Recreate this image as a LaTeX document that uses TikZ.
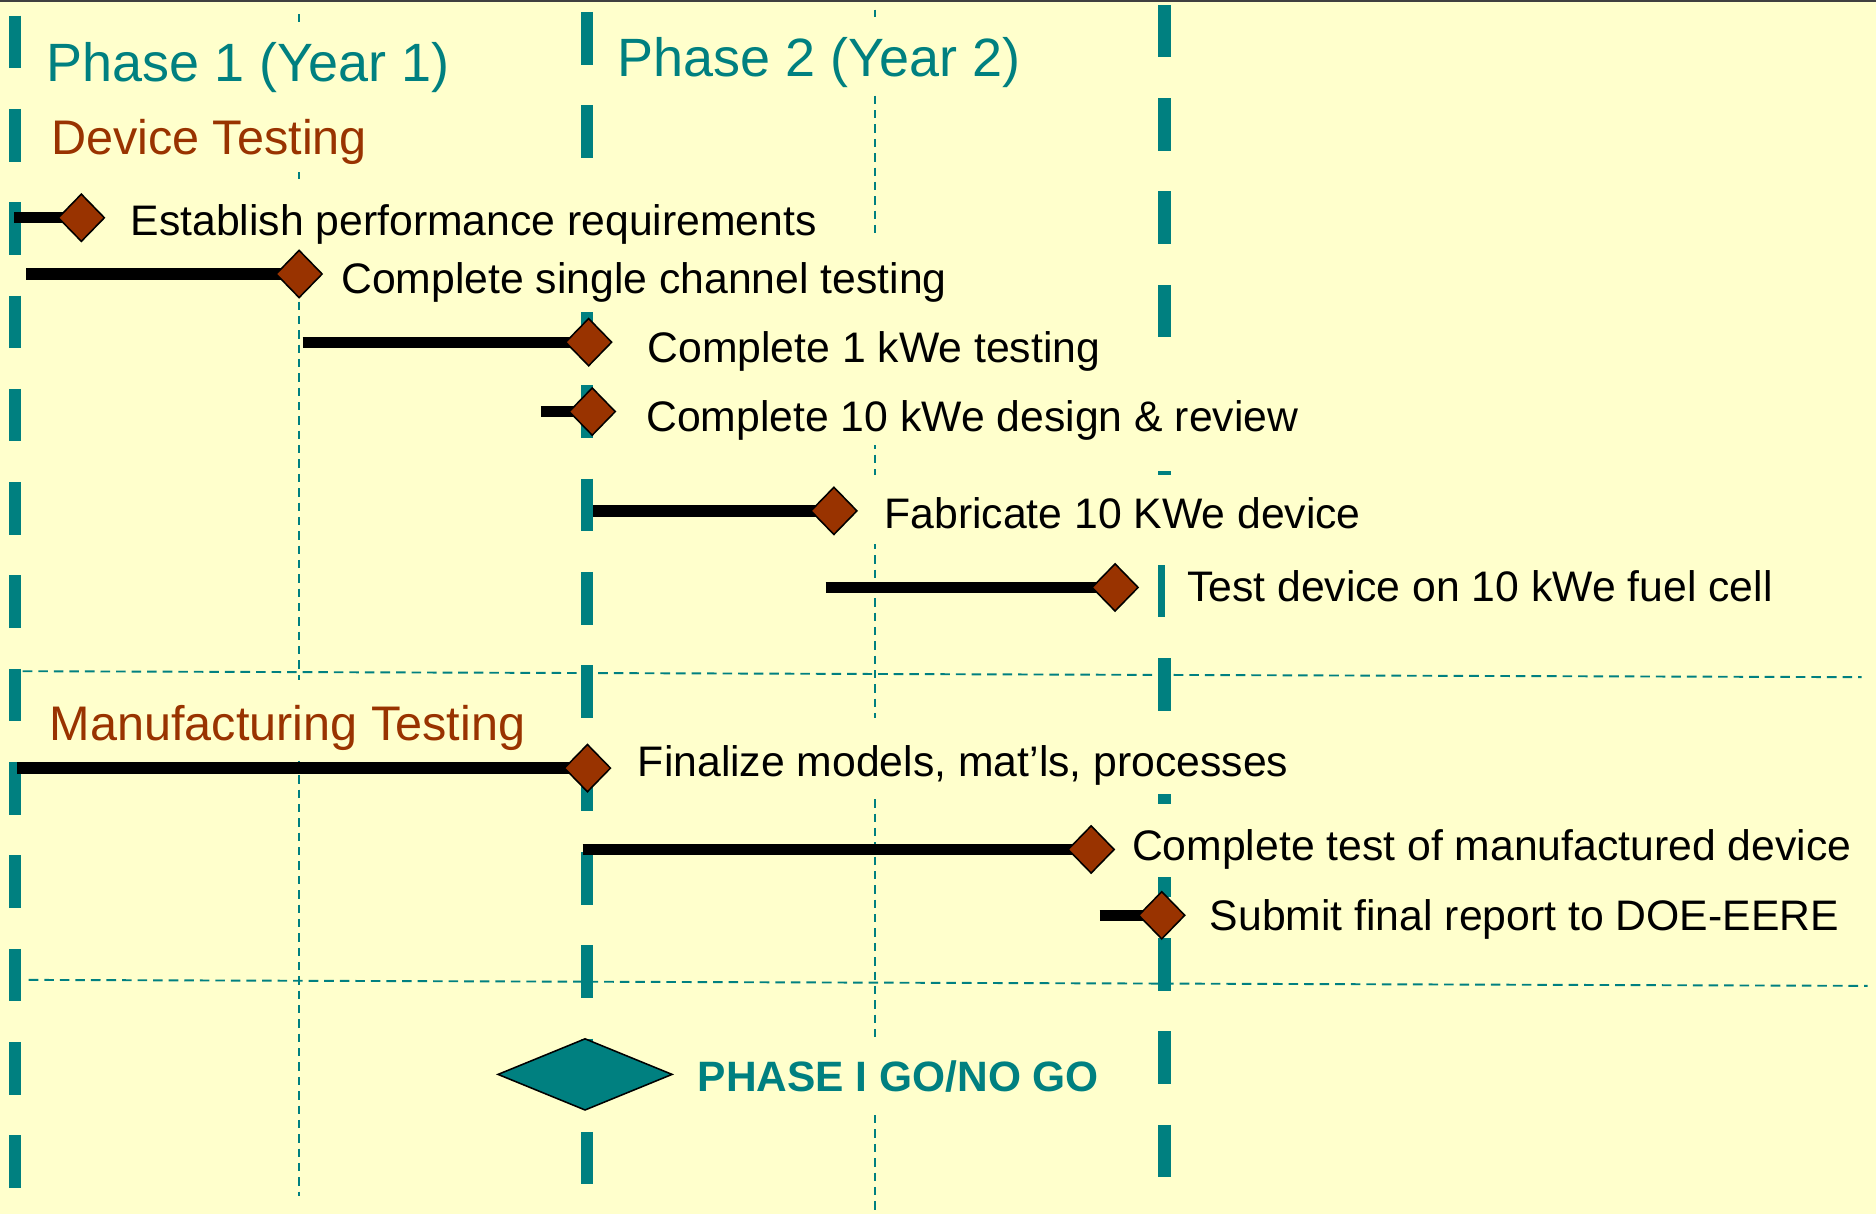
\documentclass[tikz,border=0pt]{standalone}
\usepackage{fontspec}
\setmainfont{Liberation Sans}
\usetikzlibrary{shapes.geometric}
\definecolor{bgc}{HTML}{FFFFCC}
\definecolor{tealc}{HTML}{008080}
\definecolor{brn}{HTML}{993300}
\pgfdeclarelayer{back}
\pgfsetlayers{back,main}
\begin{document}
\begin{tikzpicture}[x=1pt,y=-1pt,
  ms/.style={diamond,draw=black,line width=1.3pt,fill=brn,minimum width=39pt,minimum height=40pt,inner sep=0pt},
  gonogo/.style={diamond,draw=black,line width=1.3pt,fill=tealc,minimum width=146pt,minimum height=60pt,inner sep=0pt},
  item/.style={anchor=base west,inner sep=0pt,font=\fontsize{35.7}{40}\selectfont},
  head/.style={anchor=base west,inner sep=0pt,text=brn,font=\fontsize{40.6}{46}\selectfont},
  phasetitle/.style={anchor=base west,inner sep=0pt,text=tealc,font=\fontsize{45.1}{50}\selectfont},
  phaseline/.style={draw=tealc,line width=10.5pt,dash pattern=on 44pt off 34pt},
  gridv/.style={draw=tealc,line width=1.6pt,dash pattern=on 7pt off 5pt},
  gridh/.style={draw=tealc,line width=1.6pt,dash pattern=on 8pt off 5pt},
  bar/.style={draw=black,line width=9.5pt},
  mask/.style={fill=bgc}]
\useasboundingbox (0,0) rectangle (1568,1015);

% milestone diamonds
\node[ms] (d1) at (68,182) {};
\node[ms] (d2) at (250,229) {};
\node[ms] (d3) at (492,286) {};
\node[ms] (d4) at (495,344) {};
\node[ms] (d5) at (697,427) {};
\node[ms] (d6) at (932,491) {};
\node[ms] (d7) at (491,642) {};
\node[ms] (d8) at (912,710) {};
\node[ms] (d9) at (971,765) {};
\node[gonogo] (go) at (489,898) {};

% bar starts
\coordinate (s1) at (12,182);
\coordinate (s2) at (22,229);
\coordinate (s3) at (253,286);
\coordinate (s4) at (452,344);
\coordinate (s5) at (496,427);
\coordinate (s6) at (690,491);
\coordinate (s7) at (14,642);
\coordinate (s8) at (487,710);
\coordinate (s9) at (919,765);

% texts
\node[phasetitle] (p1) at (38.5,68) {Phase 1 (Year 1)};
\node[phasetitle] (p2) at (516,64) {Phase 2 (Year 2)};
\node[head] (h1) at (42.5,129.5) {Device Testing};
\node[head] (h2) at (41.5,618.5) {Manufacturing Testing};
\node[item] (t1) at (109,196.5) {Establish performance requirements};
\node[item] (t2) at (285,245) {Complete single channel testing};
\node[item] (t3) at (541,303) {Complete 1 kWe testing};
\node[item] (t4) at (540,361) {Complete 10 kWe design \& review};
\node[item] (t5) at (739,442) {Fabricate 10 KWe device};
\node[item] (t6) at (992,503) {Test device on 10 kWe fuel cell};
\node[item] (t7) at (533,649) {Finalize models, mat’ls, processes};
\node[item] (t8) at (946,719) {Complete test of manufactured device};
\node[item] (t9) at (1011,778) {Submit final report to DOE-EERE};
\node[item,text=tealc,font=\fontsize{35.5}{40}\selectfont\bfseries] (gt) at (583,912.5) {PHASE I GO/NO GO};

\begin{pgfonlayer}{back}
\fill[bgc] (0,0) rectangle (1568,1015);
\draw[black!75,line width=1.5pt] (0,0.75) -- (1568,0.75);
% thin grid lines
\draw[gridv] (250,12) -- (250,1000);
\draw[gridv] (731,8) -- (731,1011);
\draw[gridh] (19,561) -- (1556,566);
\draw[gridh] (24,819) -- (1561,824);
% phase boundaries
\draw[phaseline] (12.5,13) -- (12.5,993);
\draw[phaseline] (490.5,10) -- (490.5,990);
\draw[phaseline] (973.5,4) -- (973.5,984);
% opaque text boxes
\fill[mask] (28,18) rectangle (472,143);
\fill[mask] (505,14) rectangle (865,75);
\fill[mask] (95,150) rectangle (705,213);
\fill[mask] (270,200) rectangle (805,261);
\fill[mask] (525,261) rectangle (930,318);
\fill[mask] (525,312) rectangle (1095,372);
\fill[mask] (722,397) rectangle (1150,455);
\fill[mask] (974,462) rectangle (1500,520);
\fill[mask] (25,568) rectangle (470,635);
\fill[mask] (515,600) rectangle (1090,664);
\fill[mask] (930,680) rectangle (1560,733);
\fill[mask] (572,867) rectangle (930,928);
% task bars
\draw[bar] (s1) -- (d1.center);
\draw[bar] (s2) -- (d2.center);
\draw[bar] (s3) -- (d3.center);
\draw[bar] (s4) -- (d4.center);
\draw[bar] (s5) -- (d5.center);
\draw[bar] (s6) -- (d6.center);
\draw[bar] (s7) -- (d7.center);
\draw[bar] (s8) -- (d8.center);
\draw[bar] (s9) -- (d9.center);
\end{pgfonlayer}
\end{tikzpicture}
\end{document}
